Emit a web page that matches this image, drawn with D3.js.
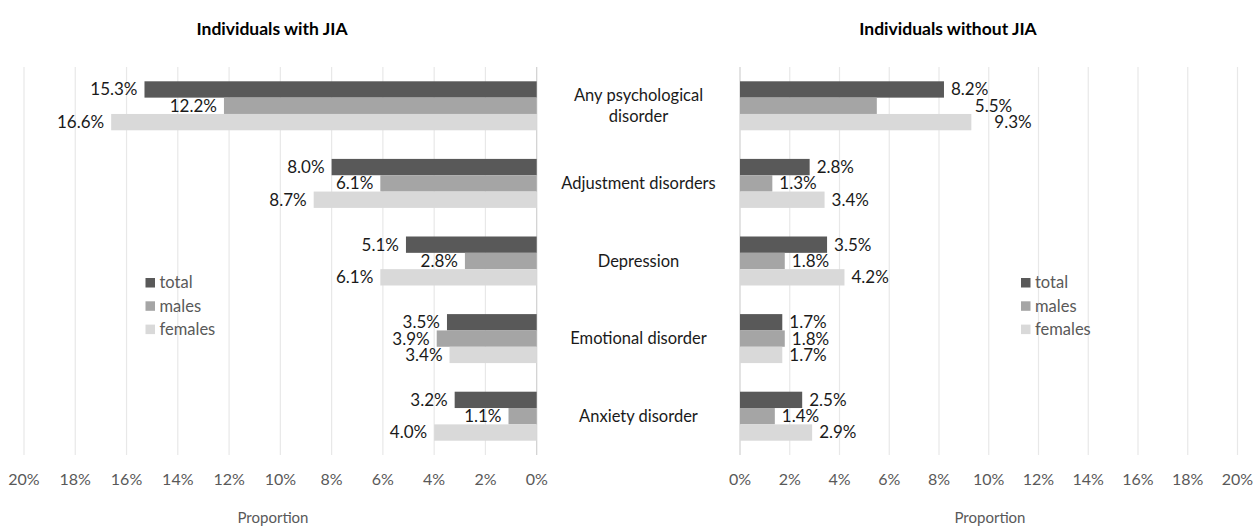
<!DOCTYPE html>
<html>
<head>
<meta charset="utf-8">
<script src="https://cdn.jsdelivr.net/npm/d3@7"></script>
<style>
  body { margin: 0; background: #fff; }
  svg { display: block; font-family: Lato, "Open Sans", sans-serif; }
</style>
</head>
<body>
<svg id="chart" width="1260" height="527"></svg>
<script>
// categories and series (percent)
const categories = ['Any psychological disorder', 'Adjustment disorders', 'Depression', 'Emotional disorder', 'Anxiety disorder']
const series = ['total', 'males', 'females']

const jiaTotal   = [15.3, 8.0, 5.1, 3.5, 3.2]
const jiaMales   = [12.2, 6.1, 2.8, 3.9, 1.1]
const jiaFemales = [16.6, 8.7, 6.1, 3.4, 4.0]

const noJiaTotal   = [8.2, 2.8, 3.5, 1.7, 2.5]
const noJiaMales   = [5.5, 1.3, 1.8, 1.8, 1.4]
const noJiaFemales = [9.3, 3.4, 4.2, 1.7, 2.9]

const ticks = [0, 2, 4, 6, 8, 10, 12, 14, 16, 18, 20]

const colors = {total: '#595959', males: '#a5a5a5', females: '#d9d9d9'}

// a couple of labels were dragged by hand in the original (px, along x)
const labelShift = {'right-0-males': 91, 'right-0-females': 16}

const svg = d3.select('#chart')

const y = d3.scaleBand().domain(categories).range([67, 455]).paddingInner(0.3686).paddingOuter(0.1843)
const ySub = d3.scaleBand().domain(series).range([0, y.bandwidth()])

function rows(total, males, females) {
    return categories.map((c, i) => ({cat: c, i: i, vals: {total: total[i], males: males[i], females: females[i]}}))
}

function drawPanel(side, data, x, title, titleX, axisTitleX, legendX) {
    const g = svg.append('g').attr('class', side)
    const dir = side === 'left' ? -1 : 1

    // gridlines
    g.append('g').selectAll('line')
        .data(ticks)
        .join('line')
        .attr('x1', d => x(d)).attr('x2', d => x(d))
        .attr('y1', 67).attr('y2', 455)
        .attr('stroke', d => d === 0 ? '#d0d0d0' : '#e8e8e8')
        .attr('stroke-width', 1.2)

    // tick labels
    g.append('g').selectAll('text')
        .data(ticks)
        .join('text')
        .attr('x', d => x(d)).attr('y', 485)
        .attr('text-anchor', 'middle')
        .attr('fill', '#595959')
        .style('font-size', '16px')
        .text(d => d + '%')

    // bars
    const grp = g.append('g').selectAll('g')
        .data(data)
        .join('g')
        .attr('transform', d => `translate(0,${y(d.cat)})`)

    grp.selectAll('rect')
        .data(d => series.map(s => ({s: s, v: d.vals[s]})))
        .join('rect')
        .attr('x', d => Math.min(x(0), x(d.v)))
        .attr('width', d => Math.abs(x(d.v) - x(0)))
        .attr('y', d => ySub(d.s))
        .attr('height', ySub.bandwidth())
        .attr('fill', d => colors[d.s])

    grp.selectAll('text')
        .data(d => series.map(s => ({s: s, v: d.vals[s], i: d.i})))
        .join('text')
        .attr('x', d => x(d.v) + dir * 7 + (labelShift[`${side}-${d.i}-${d.s}`] || 0))
        .attr('y', d => ySub(d.s) + ySub.bandwidth() / 2)
        .attr('dy', '0.35em')
        .attr('text-anchor', side === 'left' ? 'end' : 'start')
        .attr('fill', '#1a1a1a')
        .style('font-size', '17px')
        .text(d => d.v.toFixed(1) + '%')

    // titles
    g.append('text')
        .attr('x', titleX).attr('y', 35)
        .attr('text-anchor', 'middle')
        .attr('font-weight', 'bold')
        .attr('fill', '#000')
        .style('font-size', '17.5px')
        .text(title)

    g.append('text')
        .attr('x', axisTitleX).attr('y', 523)
        .attr('text-anchor', 'middle')
        .attr('fill', '#595959')
        .style('font-size', '15px')
        .text('Proportion')

    // legend
    const leg = g.append('g').selectAll('g')
        .data(series)
        .join('g')
        .attr('transform', (d, i) => `translate(${legendX},${282.5 + i * 23.3})`)
    leg.append('rect')
        .attr('x', 0).attr('y', -4.5)
        .attr('width', 9.5).attr('height', 9.5)
        .attr('fill', d => colors[d])
    leg.append('text')
        .attr('x', 14).attr('dy', '0.35em')
        .attr('fill', '#595959')
        .style('font-size', '16.5px')
        .text(d => d)
}

const xLeft = d3.scaleLinear().domain([0, 20]).range([536.7, 24])
const xRight = d3.scaleLinear().domain([0, 20]).range([740, 1237.5])

drawPanel('left', rows(jiaTotal, jiaMales, jiaFemales), xLeft, 'Individuals with JIA', 272, 273, 145.5)
drawPanel('right', rows(noJiaTotal, noJiaMales, noJiaFemales), xRight, 'Individuals without JIA', 948, 990, 1021)

// category labels between the panels
const catLines = {'Any psychological disorder': ['Any psychological', 'disorder']}
svg.append('g').selectAll('text')
    .data(categories)
    .join('text')
    .attr('text-anchor', 'middle')
    .attr('fill', '#1a1a1a')
    .style('font-size', '16.5px')
    .each(function(d) {
        const lines = catLines[d] || [d]
        const cy = y(d) + y.bandwidth() / 2
        d3.select(this).selectAll('tspan')
            .data(lines)
            .join('tspan')
            .attr('x', 638.5)
            .attr('y', (l, i) => cy + (i - (lines.length - 1) / 2) * 21)
            .attr('dy', '0.35em')
            .text(l => l)
    })
</script>
</body>
</html>
